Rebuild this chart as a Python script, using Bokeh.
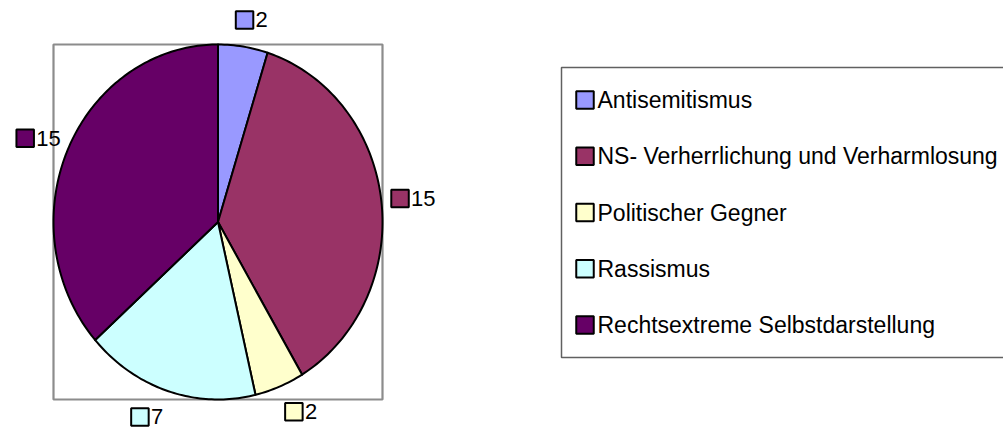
import numpy as np
from bokeh.plotting import figure
from bokeh.models import Range1d
from bokeh.embed import file_html
from bokeh.resources import INLINE
from bokeh.core.properties import value

# ---- data ----
categories = ["Antisemitismus",
              "NS- Verherrlichung und Verharmlosung",
              "Politischer Gegner",
              "Rassismus",
              "Rechtsextreme Selbstdarstellung"]
counts = [2, 15, 2, 7, 15]
colors = ["#9999FF", "#993366", "#FFFFCC", "#CCFFFF", "#660066"]

# ---- layout constants (screen px inside the figure) ----
W, H = 1003, 428
CX, CY = 217.5, 221.5      # pie centre
RX, RY = 164.5, 177.5      # pie radii (Excel pie stretched to plot area)
FONT = value("Liberation Sans")
FS = 22
LFS = 23
SQ = 16
MS = 17.5                  # drawn marker size

p = figure(width=W, height=H, output_backend="svg", toolbar_location=None,
           x_range=Range1d(0, W), y_range=Range1d(H, 0),
           x_axis_type=None, y_axis_type=None, min_border=0,
           outline_line_color=None, background_fill_color="white",
           border_fill_color="white")
p.grid.visible = False

# plot-area frame
p.quad(left=[CX - RX], right=[CX + RX], top=[CY - RY], bottom=[CY + RY],
       fill_color=None, line_color="#8c8c8c", line_width=2.2)

# ---- pie slices (clockwise from 12 o'clock) ----
total = float(sum(counts))
cum = np.concatenate([[0], np.cumsum(counts)]) / total * 2 * np.pi
xs, ys = [], []
for a0, a1 in zip(cum[:-1], cum[1:]):
    t = np.linspace(a0, a1, max(4, int((a1 - a0) / (2 * np.pi) * 360)))
    xs.append(np.concatenate([[CX], CX + RX * np.sin(t)]).tolist())
    ys.append(np.concatenate([[CY], CY - RY * np.cos(t)]).tolist())
p.patches(xs=xs, ys=ys, fill_color=colors, line_color="black", line_width=2,
          line_join="round")

# ---- data labels (key square + value) outside each slice ----
mid = (cum[:-1] + cum[1:]) / 2
GAP, LH = 18, 18
sq_x, sq_y, tx_x, tx_y, txt = [], [], [], [], []
for m, c in zip(mid, counts):
    dx, dy = np.sin(m), -np.cos(m)
    ex, ey = CX + RX * dx, CY + RY * dy
    w = SQ + 3 + len(str(c)) * 0.556 * FS
    a = 0.7 + 0.3 * dy
    bx = ex + dx * GAP + np.sign(dx) * a * w / 2
    by = ey + dy * GAP + dy * LH / 2
    left = bx - w / 2
    sq_x.append(left + SQ / 2)
    sq_y.append(by)
    tx_x.append(left + SQ + 3)
    tx_y.append(by)
    txt.append(str(c))
p.scatter(x=sq_x, y=sq_y, marker="square", size=MS, fill_color=colors,
          line_color="black", line_width=2)
p.text(x=tx_x, y=tx_y, text=txt, text_align="left", text_baseline="middle",
       text_font=FONT, text_font_size=f"{FS}px", text_color="black")

# ---- legend ----
LEFT, TOP, BOTTOM = 561, 67, 357
p.quad(left=[LEFT], right=[W + 10], top=[TOP], bottom=[BOTTOM],
       fill_color="white", line_color="#606060", line_width=1.5)
n = len(categories)
row_h = 56.3
rows = [(TOP + BOTTOM) / 2 + (i - (n - 1) / 2) * row_h for i in range(n)]
p.scatter(x=[LEFT + 23.5] * n, y=rows, marker="square", size=MS,
          fill_color=colors, line_color="black", line_width=2)
p.text(x=[LEFT + 36] * n, y=rows, text=categories, text_align="left",
       text_baseline="middle", text_font=FONT, text_font_size=f"{LFS}px",
       text_color="black")

open("out.html", "w").write(file_html(p, INLINE))
